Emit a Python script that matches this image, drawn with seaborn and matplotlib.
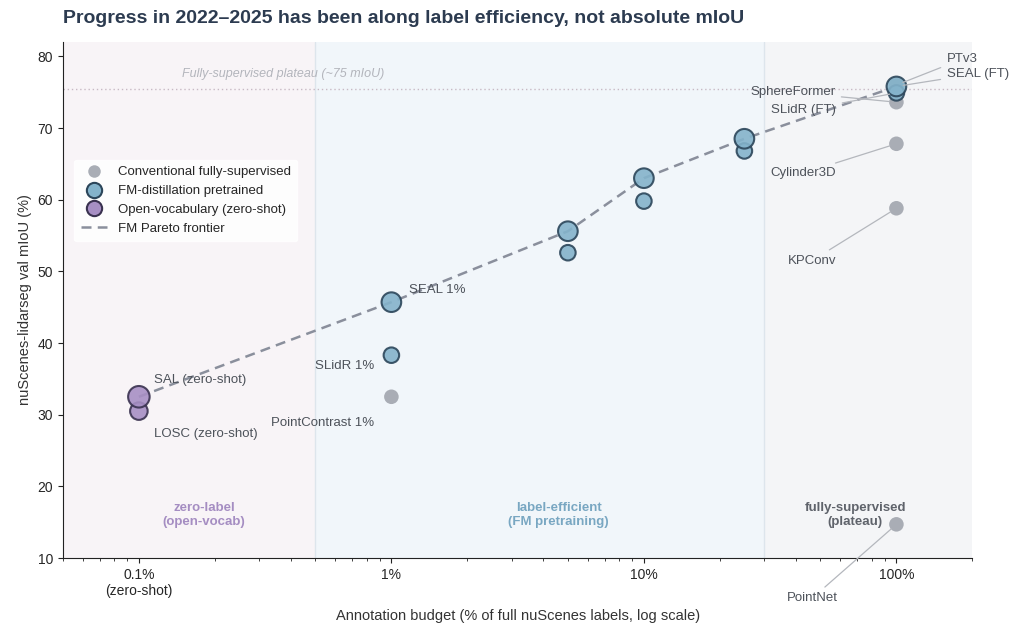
import numpy as np
import pandas as pd
import matplotlib
matplotlib.use("Agg")
import matplotlib.pyplot as plt
import seaborn as sns
from matplotlib.lines import Line2D

# ---- data ----
methods = ["PointNet", "KPConv", "Cylinder3D", "SphereFormer", "PTv3",
           "PointContrast 1%",
           "SLidR 1%", "SEAL 1%", "SLidR 5%", "SEAL 5%", "SLidR 10%", "SEAL 10%",
           "SLidR 25%", "SEAL 25%", "SLidR (FT)", "SEAL (FT)",
           "LOSC (zero-shot)", "SAL (zero-shot)"]
groups = ["conv", "conv", "conv", "conv", "conv",
          "conv",
          "fm", "fm", "fm", "fm", "fm", "fm",
          "fm", "fm", "fm", "fm",
          "ov", "ov"]
budget = [100, 100, 100, 100, 100,
          1,
          1, 1, 5, 5, 10, 10,
          25, 25, 100, 100,
          0.1, 0.1]
miou = [14.7, 58.8, 67.8, 73.6, 76.0,
        32.5,
        38.3, 45.7, 52.6, 55.6, 59.8, 63.0,
        66.8, 68.5, 74.9, 75.8,
        30.5, 32.5]

plateau = 75.5
region_edges = [0.05, 0.5, 30, 200]
region_names = ["zero-label\n(open-vocab)", "label-efficient\n(FM pretraining)",
                "fully-supervised\n(plateau)"]
xtick_vals = [0.1, 1, 10, 100]
xtick_text = ["0.1%\n(zero-shot)", "1%", "10%", "100%"]

df = pd.DataFrame({"method": methods, "group": groups, "budget": budget, "miou": miou})
# Pareto frontier = best non-conventional result at each budget
nc = df[df.group != "conv"]
best = nc.groupby("budget")["miou"].transform("max")
df["frontier"] = False
df.loc[nc.index, "frontier"] = nc["miou"] == best
front = df[df.frontier].sort_values("budget")

# ---- style ----
sns.set_style("ticks")
plt.rcParams["font.family"] = ["Liberation Sans", "DejaVu Sans"]

C_CONV = "#a9adb5"
C_FM = "#84b3cb"
C_FM_EDGE = "#2c465a"
C_OV = "#a78fc4"
C_OV_EDGE = "#3a3250"
TXT = "#4d525a"

fig = plt.figure(figsize=(10.14, 6.27), dpi=100)
ax = fig.add_axes([0.062, 0.110, 0.897, 0.823])

ax.set_xscale("log")
ax.set_xlim(0.05, 200)
ax.set_ylim(10, 82)

# background regions
bg = ["#f8f4f7", "#f1f6fa", "#f4f5f7"]
for i in range(3):
    ax.axvspan(region_edges[i], region_edges[i + 1], color=bg[i], zorder=0, lw=0)
for e in region_edges[1:3]:
    ax.axvline(e, color="#dde5ec", lw=1.0, zorder=0.5)

# region labels
ax.text(0.181, 16.0, region_names[0], ha="center", va="center", fontsize=9.5,
        fontweight="bold", color="#a58dc2", zorder=1)
ax.text(4.6, 16.0, region_names[1], ha="center", va="center", fontsize=9.5,
        fontweight="bold", color="#79a7c2", zorder=1)
ax.text(68.7, 16.0, region_names[2], ha="center", va="center", fontsize=9.5,
        fontweight="bold", color="#5f636b", zorder=1)

# plateau
ax.axhline(plateau, color="#c8b9c4", lw=1.0, ls=(0, (1, 2)), zorder=1)
ax.text(0.148, 77.5, "Fully-supervised plateau (~75 mIoU)", fontsize=9, style="italic",
        color="#b3b5bc", ha="left", va="center")

# frontier line
sns.lineplot(data=front, x="budget", y="miou", ax=ax, color="#8a8f9c", lw=1.8,
             linestyle=(0, (4, 2.5)), estimator=None, sort=True, zorder=4)

# points
sns.scatterplot(data=df[df.group == "conv"], x="budget", y="miou", ax=ax, s=110,
                color=C_CONV, edgecolor="none", zorder=3, legend=False)
sns.scatterplot(data=df[df.group == "fm"], x="budget", y="miou", ax=ax,
                size="frontier", sizes={True: 200, False: 125},
                color=C_FM, edgecolor=C_FM_EDGE, linewidth=1.5, alpha=0.9,
                zorder=5, legend=False)
sns.scatterplot(data=df[df.group == "ov"], x="budget", y="miou", ax=ax,
                size="frontier", sizes={True: 240, False: 160},
                color=C_OV, edgecolor=C_OV_EDGE, linewidth=1.5, alpha=0.9,
                zorder=5, legend=False)

# labels
labels = {
    "SAL (zero-shot)": (0.115, 34.8, "left", False),
    "LOSC (zero-shot)": (0.115, 27.3, "left", False),
    "SEAL 1%": (1.17, 47.4, "left", False),
    "SLidR 1%": (0.856, 36.8, "right", False),
    "PointContrast 1%": (0.856, 28.8, "right", False),
    "PTv3": (158, 79.6, "left", True),
    "SEAL (FT)": (158, 77.6, "left", True),
    "SphereFormer": (57.3, 75.0, "right", True),
    "SLidR (FT)": (57.8, 72.5, "right", True),
    "Cylinder3D": (57.8, 63.7, "right", True),
    "KPConv": (57.8, 51.5, "right", True),
    "PointNet": (46.4, 4.4, "center", True),
}
for name, (tx, ty, ha, leader) in labels.items():
    row = df[df.method == name].iloc[0]
    ap = dict(arrowstyle="-", color="#b4b7bd", lw=0.9, shrinkA=2, shrinkB=5) if leader else None
    ax.annotate(name, xy=(row.budget, row.miou), xytext=(tx, ty), ha=ha, va="center",
                fontsize=9.5, color=TXT, arrowprops=ap, annotation_clip=False, zorder=6)

# axes
ax.set_xticks(xtick_vals)
ax.set_xticklabels(xtick_text, fontsize=10)
ax.set_yticks(np.arange(10, 81, 10))
ax.tick_params(axis="y", labelsize=10)
ax.tick_params(axis="both", which="both", color="#222222", direction="out")
sns.despine(ax=ax)
ax.spines["left"].set_color("#222222")
ax.spines["bottom"].set_color("#222222")
ax.set_xlabel("Annotation budget (% of full nuScenes labels, log scale)", fontsize=10.5,
              color="#333333", labelpad=8)
ax.set_ylabel("nuScenes-lidarseg val mIoU (%)", fontsize=10.5, color="#333333")
ax.set_title("Progress in 2022\u20132025 has been along label efficiency, not absolute mIoU",
             loc="left", fontsize=14, fontweight="bold", color="#2c3b50", pad=14)

handles = [
    Line2D([], [], marker="o", ls="none", markersize=9, markerfacecolor=C_CONV,
           markeredgecolor="none"),
    Line2D([], [], marker="o", ls="none", markersize=11, markerfacecolor=C_FM,
           markeredgecolor=C_FM_EDGE, markeredgewidth=1.5),
    Line2D([], [], marker="o", ls="none", markersize=11, markerfacecolor=C_OV,
           markeredgecolor=C_OV_EDGE, markeredgewidth=1.5),
    Line2D([], [], color="#8a8f9c", lw=1.8, ls=(0, (4, 2.5))),
]
ax.legend(handles, ["Conventional fully-supervised", "FM-distillation pretrained",
                    "Open-vocabulary (zero-shot)", "FM Pareto frontier"],
          loc="upper left", bbox_to_anchor=(0.005, 0.785), fontsize=9.5, frameon=True,
          facecolor="white", edgecolor="white", framealpha=0.85, handlelength=2.0,
          labelspacing=0.5, borderpad=0.5)

fig.savefig("out.png", dpi=100)
